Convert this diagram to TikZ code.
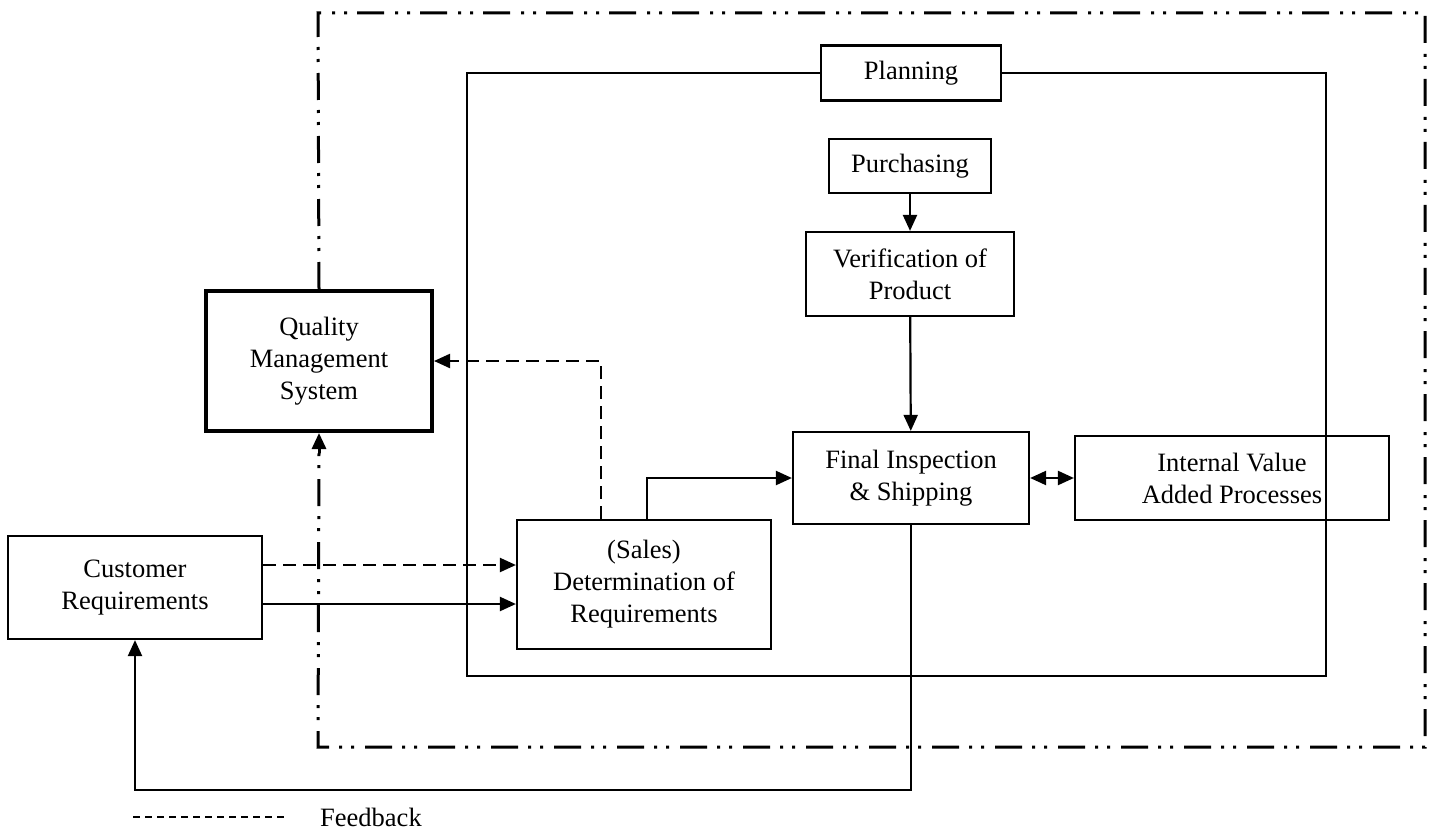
\documentclass[tikz,border=0pt]{standalone}
\usepackage{fontspec}
\setmainfont{Liberation Serif}
\usetikzlibrary{arrows.meta}
\begin{document}
\begin{tikzpicture}[x=1pt,y=-1pt,
  every node/.style={font=\fontsize{26.5}{32}\selectfont},
  box/.style={draw,line width=2.2pt,rectangle,align=center,inner sep=0pt},
  thickbox/.style={box,line width=4pt},
  conn/.style={line width=2.2pt},
  arr/.style={conn,-{Triangle[length=16pt,width=14pt]}},
  darr/.style={conn,{Triangle[length=16pt,width=14pt]}-{Triangle[length=16pt,width=14pt]}},
  fbline/.style={line width=2.2pt,dash pattern=on 13pt off 7pt},
  outerline/.style={line width=3pt,dash pattern=on 27pt off 11pt on 3pt off 9pt on 3pt off 10pt},
  legendline/.style={line width=1.4pt,dash pattern=on 7pt off 5pt}]
\useasboundingbox (0,0) rectangle (1434,829);

% nodes
\node[box,minimum width=180pt,minimum height=55pt] (plan) at (911,73) {Planning};
\node[box,minimum width=162pt,minimum height=54pt] (purch) at (910,166) {Purchasing};
\node[box,minimum width=208pt,minimum height=84pt] (verif) at (910,274) {Verification of\\Product};
\node[box,minimum width=236pt,minimum height=92pt] (final) at (911,478) {Final Inspection\\\& Shipping};
\node[box,minimum width=314pt,minimum height=84pt] (intern) at (1232,478) {Internal Value\\Added Processes};
\node[box,minimum width=254pt,minimum height=129pt] (sales) at (644,584.5) {(Sales)\\Determination of\\Requirements};
\node[box,minimum width=254pt,minimum height=103pt] (cust) at (135,587.5) {Customer\\Requirements};
\node[thickbox,minimum width=226pt,minimum height=140pt] (qms) at (319,361) {Quality\\Management\\System};

% helper coordinates
\coordinate (otl) at (318,13);
\coordinate (otr) at (1425,13);
\coordinate (obr) at (1425,747);
\coordinate (obl) at (318,747);
\coordinate (itl) at (467,73);
\coordinate (itr) at (1326,73);
\coordinate (ibr) at (1326,676);
\coordinate (ibl) at (467,676);
\coordinate (ydash) at (0,565);
\coordinate (ysolid) at (0,604);
\coordinate (xfb) at (601,0);
\coordinate (xsf) at (647,0);
\coordinate (yret) at (0,790);
\coordinate (lg1) at (133,817);
\coordinate (lg2) at (287,817);

% outer dash-dot-dot boundary
\draw[outerline] (qms.north) -- (otl) -- (otr) -- (obr) -- (obl) -- ([yshift=-20pt]qms.south);
\draw[line width=3pt,-{Triangle[length=16pt,width=14pt]}] ([yshift=-20pt]qms.south) -- (qms.south);

% inner planning frame
\draw[conn] (plan.west) -- (itl) -- (ibl) -- (ibr) -- (itr) -- (plan.east);

% connectors
\draw[arr] (purch) -- (verif);
\draw[arr] (verif) -- (final);
\draw[arr] (sales.north -| xsf) |- (final.west);
\draw[darr] (final.east) -- (intern.west);
\draw[arr,fbline] (sales.north -| xfb) |- (qms.east);
\draw[arr,fbline] (cust.east |- ydash) -- (sales.west |- ydash);
\draw[arr] (cust.east |- ysolid) -- (sales.west |- ysolid);
\draw[arr] (final.south) -- (final.south |- yret) -| (cust.south);

% legend
\draw[legendline] (lg1) -- (lg2);
\node[anchor=base west,inner sep=0pt] (fb) at (320,826) {Feedback};
\end{tikzpicture}
\end{document}
